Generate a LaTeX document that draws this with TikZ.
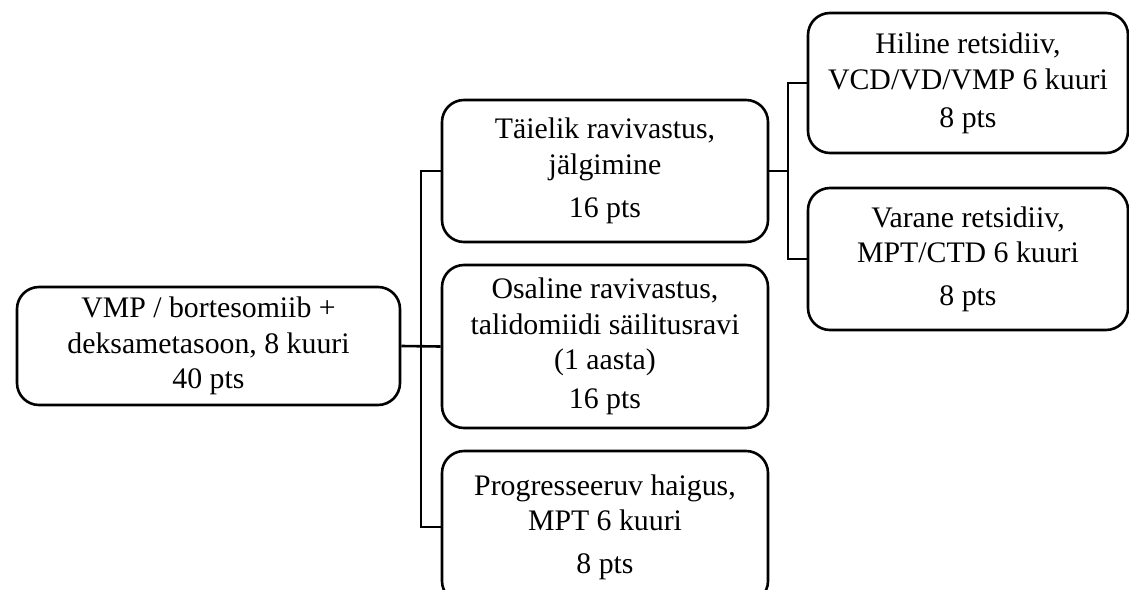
\documentclass[tikz,border=0pt]{standalone}
\usepackage{fontspec}
\setmainfont{Liberation Serif}

\begin{document}
\begin{tikzpicture}[x=1pt,y=-1pt,
  box/.style={draw,line width=2.6pt,rounded corners=22pt,align=center,inner sep=0pt,
    font=\fontsize{29.8}{35.5}\selectfont},
  link/.style={line width=2.6pt}]
\useasboundingbox (0,0) rectangle (1129,589);
\node[box,minimum width=383pt,minimum height=118pt] (root) at (208.5,346)
  {VMP / bortesomiib +\\deksametasoon, 8 kuuri\\40 pts};
\node[box,minimum width=326pt,minimum height=142pt] (full) at (605,171)
  {Täielik ravivastus,\\jälgimine\\[8pt]16 pts};
\node[box,minimum width=326pt,minimum height=163pt] (part) at (605,346.5)
  {Osaline ravivastus,\\talidomiidi säilitusravi\\(1 aasta)\\[3pt]16 pts};
\node[box,minimum width=326pt,minimum height=152pt] (prog) at (605,527)
  {Progresseeruv haigus,\\MPT 6 kuuri\\[7pt]8 pts};
\node[box,minimum width=320pt,minimum height=140pt] (late) at (968,83)
  {Hiline retsidiiv,\\[1pt]VCD/VD/VMP 6 kuuri\\[2pt]8 pts};
\node[box,minimum width=320pt,minimum height=142pt] (early) at (968,259)
  {Varane retsidiiv,\\MPT/CTD 6 kuuri\\[7pt]8 pts};
\coordinate (bus) at (421,346.5);
\coordinate (rbus) at (788,171);
\draw[link] (root.east) -- (part.west);
\draw[link] (full.west) -| (bus) |- (prog.west);
\draw[link] (full.east) -- (rbus);
\draw[link] (late.west) -| (rbus) |- (early.west);
\end{tikzpicture}
\end{document}
